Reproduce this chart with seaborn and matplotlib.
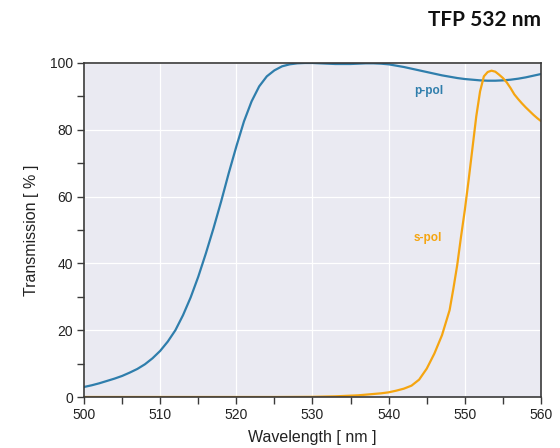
import numpy as np
import pandas as pd
import matplotlib
matplotlib.use("Agg")
import matplotlib.pyplot as plt
import seaborn as sns
from matplotlib.ticker import MultipleLocator

# ---- data ----
p_wl = list(range(500, 561))
p_T = [3.0, 3.5, 4.1, 4.8, 5.5, 6.3, 7.3, 8.4, 9.8, 11.6,
       13.8, 16.6, 20.0, 24.5, 29.8, 36.0, 43.0, 50.5, 58.5, 67.0,
       75.0, 82.5, 88.5, 93.0, 96.0, 97.8, 99.0, 99.6, 99.9, 100.0,
       100.0, 99.9, 99.8, 99.7, 99.7, 99.7, 99.8, 99.9, 99.9, 99.8,
       99.6, 99.2, 98.8, 98.3, 97.8, 97.3, 96.8, 96.3, 95.9, 95.5,
       95.2, 95.0, 94.8, 94.7, 94.7, 94.8, 95.0, 95.3, 95.7, 96.2,
       96.7]

s_wl = [500, 505, 510, 515, 520, 525, 530, 531, 532, 533, 534, 535, 536, 537, 538, 539,
        540, 541, 542, 543, 544, 545, 546, 547, 548, 548.5, 549, 549.5, 550, 550.5,
        551, 551.5, 552, 552.5, 553, 553.5, 554, 554.5, 555, 555.5, 556, 556.5,
        557, 557.5, 558, 558.5, 559, 559.5, 560]
s_T = [0.0, 0.0, 0.0, 0.0, 0.0, 0.0, 0.05, 0.1, 0.15, 0.2, 0.3, 0.4, 0.5, 0.7, 0.9, 1.1,
       1.4, 1.9, 2.5, 3.4, 5.2, 8.5, 13.0, 18.5, 26.0, 32.5, 39.5, 48.0, 56.0, 65.0,
       74.5, 84.0, 91.5, 96.0, 97.3, 97.7, 97.4, 96.5, 95.5, 94.2, 92.5, 90.6,
       89.2, 87.9, 86.7, 85.6, 84.5, 83.5, 82.6]

title = "TFP 532 nm"
xlabel = "Wavelength [ nm ]"
ylabel = "Transmission [ % ]"

blue = "#2F7EAC"
orange = "#F5A511"

sns.set_theme(style="darkgrid", rc={"axes.facecolor": "#EAEAF2"})
plt.rcParams["font.family"] = ["Liberation Sans", "DejaVu Sans"]

fig = plt.figure(figsize=(5.6, 4.48), dpi=100)
ax = fig.add_axes([84/560, 1-397/448, (541-84)/560, (397-63)/448])

dfp = pd.DataFrame({"wl": p_wl, "T": p_T})
dfs = pd.DataFrame({"wl": s_wl, "T": s_T})
sns.lineplot(data=dfp, x="wl", y="T", ax=ax, color=blue, lw=1.6)
sns.lineplot(data=dfs, x="wl", y="T", ax=ax, color=orange, lw=1.6)

ax.set_xlim(500, 560)
ax.set_ylim(0, 100)
ax.xaxis.set_major_locator(MultipleLocator(10))
ax.xaxis.set_minor_locator(MultipleLocator(5))
ax.yaxis.set_major_locator(MultipleLocator(20))
ax.yaxis.set_minor_locator(MultipleLocator(10))
ax.grid(True, which="major", color="white", lw=0.9)
ax.grid(False, which="minor")

for s in ax.spines.values():
    s.set_visible(True)
    s.set_color("#3a3a3a")
    s.set_linewidth(1.2)

ax.tick_params(axis="both", which="both", direction="out", length=5, width=1,
               color="#3a3a3a", labelsize=10, labelcolor="#222222", pad=3,
               bottom=True, left=True)

ax.set_xlabel(xlabel, fontsize=11.5, color="#222222", labelpad=6)
ax.set_ylabel(ylabel, fontsize=11.5, color="#222222", labelpad=8)

ax.text(0.755, 0.916, "p-pol", transform=ax.transAxes, color=blue,
        fontsize=8.5, fontweight="bold", ha="center", va="center")
ax.text(0.753, 0.476, "s-pol", transform=ax.transAxes, color=orange,
        fontsize=8.5, fontweight="bold", ha="center", va="center")

fig.text(541/560, 1-20/448, title, fontsize=15, fontweight="bold",
         ha="right", va="center", color="#111111", family=["Lato", "DejaVu Sans"])

fig.savefig("out.png", dpi=100)
